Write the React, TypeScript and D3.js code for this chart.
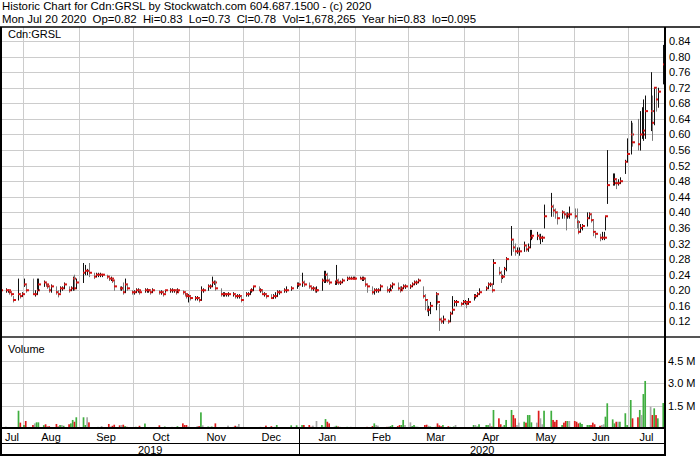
import React from 'react';
import * as d3 from 'd3';

// chart size
const W = 700;
const H = 457;

// daily highs / lows / closes (Cdn:GRSL), one line per month
const highs = [
  // Jul 2019
  0.205, 0.205, 0.2, 0.2, 0.195, 0.185, 0.23, 0.19, 0.195,
  // Aug
  0.23, 0.215, 0.23, 0.2, 0.23, 0.23, 0.225, 0.22, 0.215, 0.21, 0.215, 0.21, 0.2, 0.21, 0.21, 0.22, 0.21, 0.21, 0.235, 0.24, 0.23,
  // Sep
  0.27, 0.265, 0.255, 0.27, 0.245, 0.245, 0.245, 0.245, 0.24, 0.24, 0.235, 0.235, 0.23, 0.225, 0.21, 0.21, 0.22, 0.23, 0.215, 0.2,
  // Oct
  0.2, 0.205, 0.205, 0.2, 0.205, 0.205, 0.2, 0.2, 0.205, 0.2, 0.2, 0.195, 0.2, 0.205, 0.205, 0.2, 0.2, 0.205, 0.2, 0.195, 0.19, 0.19,
  // Nov
  0.185, 0.185, 0.185, 0.18, 0.21, 0.205, 0.215, 0.215, 0.235, 0.225, 0.225, 0.205, 0.195, 0.195, 0.19, 0.195, 0.195, 0.19, 0.19, 0.19, 0.185,
  // Dec
  0.195, 0.195, 0.2, 0.205, 0.21, 0.21, 0.205, 0.2, 0.195, 0.19, 0.19, 0.19, 0.195, 0.2, 0.2, 0.205, 0.21, 0.21, 0.22, 0.22,
  // Jan 2020
  0.245, 0.225, 0.22, 0.21, 0.21, 0.205, 0.21, 0.23, 0.25, 0.25, 0.245, 0.23, 0.225, 0.265, 0.23, 0.225, 0.23, 0.235, 0.235, 0.235, 0.235, 0.235,
  // Feb
  0.235, 0.235, 0.235, 0.23, 0.215, 0.21, 0.205, 0.205, 0.205, 0.215, 0.21, 0.205, 0.215, 0.22, 0.22, 0.21, 0.21, 0.215, 0.215,
  // Mar
  0.215, 0.22, 0.225, 0.225, 0.23, 0.21, 0.19, 0.175, 0.16, 0.17, 0.195, 0.19, 0.165, 0.13, 0.135, 0.125, 0.145, 0.185, 0.175, 0.175, 0.17, 0.175,
  // Apr
  0.175, 0.17, 0.18, 0.19, 0.19, 0.195, 0.205, 0.21, 0.22, 0.22, 0.215, 0.28, 0.26, 0.25, 0.24, 0.26, 0.285, 0.365, 0.33, 0.32, 0.31,
  // May
  0.31, 0.325, 0.315, 0.32, 0.355, 0.355, 0.35, 0.345, 0.345, 0.34, 0.42, 0.45, 0.42, 0.41, 0.4, 0.405, 0.4, 0.4, 0.4, 0.415,
  // Jun
  0.41, 0.41, 0.38, 0.37, 0.37, 0.4, 0.4, 0.395, 0.38, 0.35, 0.345, 0.35, 0.35, 0.39, 0.56, 0.5, 0.5, 0.485, 0.485, 0.49, 0.535, 0.59,
  // Jul
  0.635, 0.63, 0.64, 0.66, 0.67, 0.69, 0.7, 0.76, 0.7, 0.72, 0.72, 0.72, 0.83,
];

const lows = [
  0.2, 0.195, 0.195, 0.19, 0.185, 0.17, 0.175, 0.18, 0.185,
  0.21, 0.195, 0.19, 0.185, 0.19, 0.2, 0.21, 0.21, 0.205, 0.195, 0.195, 0.19, 0.183, 0.195, 0.2, 0.205, 0.195, 0.2, 0.2, 0.2, 0.205,
  0.22, 0.24, 0.24, 0.235, 0.23, 0.235, 0.235, 0.235, 0.235, 0.23, 0.225, 0.225, 0.22, 0.2, 0.2, 0.2, 0.19, 0.195, 0.2, 0.19,
  0.19, 0.195, 0.195, 0.19, 0.195, 0.195, 0.195, 0.19, 0.195, 0.19, 0.19, 0.185, 0.195, 0.195, 0.195, 0.195, 0.19, 0.195, 0.19, 0.185, 0.18, 0.17,
  0.175, 0.175, 0.175, 0.17, 0.175, 0.195, 0.2, 0.205, 0.21, 0.215, 0.2, 0.185, 0.185, 0.185, 0.185, 0.185, 0.185, 0.18, 0.18, 0.18, 0.17,
  0.185, 0.185, 0.19, 0.195, 0.2, 0.2, 0.195, 0.19, 0.185, 0.18, 0.18, 0.18, 0.18, 0.185, 0.19, 0.195, 0.195, 0.2, 0.205, 0.21,
  0.21, 0.21, 0.205, 0.2, 0.2, 0.195, 0.195, 0.2, 0.22, 0.22, 0.22, 0.215, 0.215, 0.215, 0.215, 0.215, 0.22, 0.225, 0.23, 0.23, 0.23, 0.23,
  0.23, 0.225, 0.225, 0.21, 0.195, 0.19, 0.19, 0.195, 0.195, 0.2, 0.195, 0.195, 0.2, 0.205, 0.2, 0.195, 0.2, 0.205, 0.205,
  0.205, 0.21, 0.215, 0.215, 0.22, 0.18, 0.15, 0.145, 0.135, 0.14, 0.15, 0.165, 0.097, 0.115, 0.115, 0.115, 0.12, 0.14, 0.16, 0.16, 0.16, 0.165,
  0.165, 0.155, 0.165, 0.175, 0.18, 0.185, 0.19, 0.2, 0.205, 0.21, 0.195, 0.215, 0.24, 0.22, 0.23, 0.24, 0.25, 0.29, 0.3, 0.29, 0.295,
  0.29, 0.3, 0.3, 0.3, 0.31, 0.33, 0.33, 0.33, 0.32, 0.325, 0.36, 0.39, 0.39, 0.385, 0.37, 0.385, 0.385, 0.355, 0.385, 0.385,
  0.385, 0.36, 0.345, 0.35, 0.355, 0.365, 0.385, 0.375, 0.34, 0.335, 0.327, 0.33, 0.33, 0.355, 0.423, 0.47, 0.47, 0.461, 0.47, 0.475, 0.5, 0.53,
  0.55, 0.57, 0.56, 0.56, 0.59, 0.585, 0.59, 0.61, 0.585, 0.625, 0.66, 0.67, 0.73,
];

const closes = [
  0.2, 0.2, 0.2, 0.195, 0.19, 0.175, 0.19, 0.185, 0.19,
  0.215, 0.2, 0.19, 0.19, 0.2, 0.215, 0.22, 0.215, 0.21, 0.2, 0.21, 0.195, 0.19, 0.205, 0.205, 0.215, 0.2, 0.205, 0.23, 0.205, 0.22,
  0.245, 0.25, 0.25, 0.245, 0.235, 0.24, 0.24, 0.24, 0.24, 0.235, 0.23, 0.23, 0.225, 0.21, 0.205, 0.205, 0.195, 0.215, 0.205, 0.195,
  0.195, 0.2, 0.2, 0.195, 0.2, 0.2, 0.2, 0.195, 0.2, 0.195, 0.195, 0.19, 0.2, 0.2, 0.2, 0.2, 0.195, 0.2, 0.195, 0.19, 0.185, 0.185,
  0.18, 0.18, 0.18, 0.175, 0.2, 0.2, 0.21, 0.21, 0.22, 0.22, 0.205, 0.19, 0.19, 0.19, 0.19, 0.19, 0.19, 0.185, 0.185, 0.185, 0.175,
  0.19, 0.19, 0.2, 0.2, 0.21, 0.2, 0.2, 0.19, 0.19, 0.185, 0.18, 0.185, 0.185, 0.195, 0.195, 0.2, 0.2, 0.205, 0.215, 0.215,
  0.22, 0.215, 0.21, 0.205, 0.205, 0.2, 0.2, 0.225, 0.225, 0.24, 0.225, 0.22, 0.22, 0.225, 0.22, 0.22, 0.225, 0.23, 0.23, 0.23, 0.23, 0.23,
  0.23, 0.23, 0.23, 0.215, 0.21, 0.195, 0.2, 0.2, 0.2, 0.21, 0.2, 0.2, 0.21, 0.215, 0.205, 0.2, 0.205, 0.21, 0.21,
  0.21, 0.215, 0.22, 0.22, 0.225, 0.185, 0.175, 0.15, 0.15, 0.16, 0.19, 0.17, 0.125, 0.12, 0.125, 0.12, 0.14, 0.15, 0.17, 0.17, 0.165, 0.17,
  0.17, 0.165, 0.17, 0.185, 0.185, 0.19, 0.195, 0.205, 0.215, 0.215, 0.2, 0.27, 0.245, 0.235, 0.235, 0.255, 0.28, 0.33, 0.31, 0.3, 0.3,
  0.3, 0.315, 0.305, 0.31, 0.335, 0.34, 0.34, 0.335, 0.335, 0.335, 0.39, 0.415, 0.405, 0.4, 0.385, 0.4, 0.395, 0.39, 0.395, 0.395,
  0.39, 0.375, 0.35, 0.36, 0.365, 0.385, 0.395, 0.38, 0.35, 0.345, 0.335, 0.335, 0.335, 0.39, 0.47, 0.475, 0.485, 0.475, 0.475, 0.48, 0.53, 0.55,
  0.6, 0.58, 0.575, 0.6, 0.6, 0.61, 0.66, 0.66, 0.63, 0.72, 0.69, 0.71, 0.78,
];

// daily volume, thousands of shares
const volumes = [
  90, 90, 40, 60, 30, 50, 1160, 360, 40,
  200, 470, 200, 310, 380, 380, 190, 250, 100, 120, 60, 270, 100, 200, 200, 150, 250, 310, 540, 420, 720,
  720, 200, 720, 380, 60, 50, 80, 60, 130, 60, 270, 100, 150, 220, 180, 200, 220, 130, 80, 60,
  60, 80, 50, 150, 300, 60, 40, 50, 60, 180, 50, 40, 100, 60, 80, 60, 50, 120, 310, 200, 200, 100,
  60, 50, 130, 130, 1050, 180, 100, 80, 100, 60, 310, 50, 60, 40, 60, 160, 80, 150, 120, 270, 60,
  60, 40, 50, 30, 60, 40, 80, 50, 40, 160, 120, 60, 80, 200, 40, 60, 40, 180, 180, 60,
  200, 200, 200, 80, 160, 60, 470, 200, 80, 600, 420, 310, 100, 150, 100, 80, 60, 80, 60, 80, 50, 60,
  50, 40, 60, 40, 80, 130, 310, 200, 160, 60, 80, 100, 130, 200, 130, 200, 200, 540, 200,
  380, 130, 200, 100, 80, 60, 200, 220, 150, 100, 80, 310, 180, 120, 200, 120, 80, 60, 100, 200, 60, 50,
  50, 60, 60, 200, 200, 100, 250, 200, 200, 310, 100, 1210, 650, 250, 100, 200, 540, 1210, 870, 650, 200,
  360, 420, 360, 870, 870, 380, 360, 1160, 650, 250, 1160, 1160, 540, 420, 540, 200, 360, 470, 470, 470,
  470, 420, 310, 360, 270, 200, 200, 200, 360, 250, 150, 200, 250, 760, 1660, 580, 310, 420, 420, 420, 990, 200,
  1880, 650, 720, 1210, 870, 2280, 3160, 1430, 870, 1320, 870, 650, 1678,
];

const priceTicks = [0.12, 0.16, 0.2, 0.24, 0.28, 0.32, 0.36, 0.4, 0.44, 0.48, 0.52, 0.56, 0.6, 0.64, 0.68, 0.72, 0.76, 0.8, 0.84];
const volumeTicks = [1.5, 3.0, 4.5]; // millions
const monthLabels = ['Jul', 'Aug', 'Sep', 'Oct', 'Nov', 'Dec', 'Jan', 'Feb', 'Mar', 'Apr', 'May', 'Jun', 'Jul'];
const yearLabels = ['2019', '2020'];

// TSX-V closures in the period
const holidays = ['2019-08-05', '2019-09-02', '2019-10-14', '2019-12-25', '2019-12-26', '2020-01-01', '2020-02-17', '2020-04-10', '2020-05-18', '2020-07-01'];

const fmtDay = d3.timeFormat('%Y-%m-%d');
const tradingDays = d3.timeDay
  .range(new Date(2019, 6, 19), new Date(2020, 6, 21))
  .filter(d => d.getDay() !== 0 && d.getDay() !== 6 && !holidays.includes(fmtDay(d)))
  .map(d => d3.timeHour.offset(d, 12));

const FONT = '"Liberation Sans", Arial, sans-serif';

const App: React.FC = () => {
  const left = 1;
  const right = 665;
  const priceTop = 27;
  const priceBottom = 337;
  const volBase = 428;
  const monthRow = 443;
  const bottom = 455;

  const t0 = new Date(2019, 6, 19, 20);
  const t1 = new Date(2020, 6, 21, 12);
  const x = d3.scaleTime().domain([t0, t1]).range([left, right]);
  const y = d3.scaleLinear().domain([0.08, 0.876]).range([priceBottom, priceTop]);
  const yv = d3.scaleLinear().domain([0, 4.5]).range([volBase, 361]);

  const n = Math.min(tradingDays.length, closes.length);
  const bars = d3.range(n).map(i => ({
    date: tradingDays[i],
    h: highs[i],
    l: lows[i],
    c: closes[i],
    v: volumes[i] / 1000,
    dir: i === 0 ? 0 : Math.sign(closes[i] - closes[i - 1]),
  }));

  const monthStarts = d3.timeMonth.range(d3.timeMonth.ceil(t0), t1);
  const monthEdges = [t0, ...monthStarts, t1];
  const yearSplit = x(new Date(2020, 0, 1));

  const volColor = (d: number) => (d > 0 ? '#3fae3f' : d < 0 ? '#dd1c1c' : '#a8a8a8');

  return (
    <svg width={W} height={H} style={{ position: 'absolute', left: 0, top: 0, background: '#fff' }} fontFamily={FONT}>
      <rect width={W} height={H} fill="#fff" />

      {/* header */}
      <text x={2} y={10} fontSize={11.4} fill="#000">Historic Chart for Cdn:GRSL by Stockwatch.com 604.687.1500 - (c) 2020</text>
      <text x={2} y={22.8} fontSize={11.4} fill="#000" style={{ whiteSpace: 'pre' }}>
        {'Mon Jul 20 2020  Op=0.82  Hi=0.83  Lo=0.73  Cl=0.78  Vol=1,678,265  Year hi=0.83  lo=0.095'}
      </text>

      {/* grid */}
      {priceTicks.map(p => (
        <line key={'pg' + p} x1={left} x2={right} y1={Math.round(y(p)) + 0.5} y2={Math.round(y(p)) + 0.5} stroke="#cccccc" />
      ))}
      {volumeTicks.map(v => (
        <line key={'vg' + v} x1={left} x2={right} y1={Math.round(yv(v)) + 0.5} y2={Math.round(yv(v)) + 0.5} stroke="#cccccc" />
      ))}
      {monthStarts.map(m => (
        <line key={'mg' + m.getTime()} x1={Math.round(x(m)) + 0.5} x2={Math.round(x(m)) + 0.5} y1={priceTop} y2={volBase} stroke="#cccccc" />
      ))}

      {/* price bars */}
      {bars.map((b, i) => {
        const bx = Math.round(x(b.date)) + 0.5;
        const yc = y(b.c);
        return (
          <g key={'b' + i}>
            <line x1={bx} x2={bx} y1={y(b.h)} y2={y(b.l) + 0.5} stroke={b.dir < 0 ? '#7a7a7a' : '#111'} strokeWidth={1} />
            <rect x={bx - 0.5} y={yc - 1} width={3} height={2} fill="#d41414" />
          </g>
        );
      })}

      {/* volume bars */}
      {bars.map((b, i) => (
        <rect key={'v' + i} x={x(b.date) - 0.8} y={yv(b.v)} width={1.7} height={volBase - yv(b.v)} fill={volColor(b.dir)} />
      ))}

      {/* frame */}
      <line x1={0} x2={W} y1={priceTop} y2={priceTop} stroke="#000" strokeWidth={1.5} />
      <line x1={0} x2={W} y1={priceBottom} y2={priceBottom} stroke="#555" strokeWidth={2} />
      <line x1={1} x2={1} y1={priceTop} y2={bottom + 1} stroke="#000" strokeWidth={2} />
      <line x1={right} x2={right} y1={priceTop} y2={bottom + 1} stroke="#000" strokeWidth={2} />
      <line x1={0} x2={right} y1={volBase} y2={volBase} stroke="#000" strokeWidth={2} />
      <line x1={0} x2={right} y1={monthRow + 0.5} y2={monthRow + 0.5} stroke="#000" strokeWidth={1} />
      <line x1={0} x2={right} y1={bottom} y2={bottom} stroke="#000" strokeWidth={2} />
      <line x1={Math.round(yearSplit) + 0.5} x2={Math.round(yearSplit) + 0.5} y1={volBase} y2={bottom} stroke="#000" strokeWidth={1} />

      {/* panel labels */}
      <text x={8} y={38} fontSize={11} fill="#000">Cdn:GRSL</text>
      <text x={8} y={353} fontSize={11} fill="#000">Volume</text>

      {/* right axes */}
      {priceTicks.map(p => (
        <text key={'pt' + p} x={669} y={y(p) + 4} fontSize={11} fill="#000">{p.toFixed(2)}</text>
      ))}
      {volumeTicks.map(v => (
        <text key={'vt' + v} x={668} y={yv(v) + 4} fontSize={11} fill="#000">{v.toFixed(1) + ' M'}</text>
      ))}

      {/* month and year labels */}
      {monthEdges.slice(0, -1).map((m, i) => (
        <text key={'ml' + i} x={(x(m) + x(monthEdges[i + 1])) / 2} y={440.5} fontSize={11} textAnchor="middle" fill="#000">
          {monthLabels[i]}
        </text>
      ))}
      <text x={(left + yearSplit) / 2} y={453.5} fontSize={11} textAnchor="middle" fill="#000">{yearLabels[0]}</text>
      <text x={(yearSplit + right) / 2} y={453.5} fontSize={11} textAnchor="middle" fill="#000">{yearLabels[1]}</text>
    </svg>
  );
};

export default App;
